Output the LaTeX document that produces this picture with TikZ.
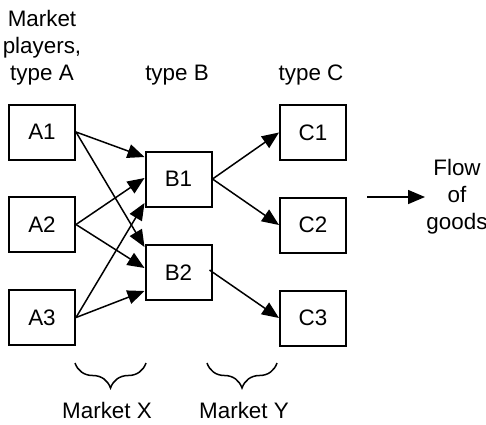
\documentclass[tikz,border=0pt]{standalone}
\usepackage{fontspec}
\setmainfont{Liberation Sans}
\usetikzlibrary{arrows.meta,calc,decorations.pathreplacing}

\begin{document}
\begin{tikzpicture}[x=0.5pt,y=-0.5pt,
  font=\fontsize{11.2}{13.5}\selectfont,
  player/.style={draw, line width=1pt, minimum width=33pt, minimum height=27.5pt, inner sep=0pt},
  flow/.style={line width=0.75pt, -{Triangle[length=8.5pt,width=7pt]}},
  brc/.style={decorate, decoration={brace, mirror, amplitude=12.5pt}, line width=0.75pt}]
\useasboundingbox (0,0) rectangle (486,424);

% column heads
\node[align=center] (headA) at (42,48) {Market\\players,\\type A};
\node (headB) at (177,75) {type B};
\node (headC) at (311,75) {type C};

% players
\node[player] (A1) at (42,132) {A1};
\node[player] (A2) at (42,224.5) {A2};
\node[player] (A3) at (42,317.5) {A3};
\node[player] (B1) at (178.5,179) {B1};
\node[player] (B2) at (178.5,272.5) {B2};
\node[player] (C1) at (313,132.5) {C1};
\node[player] (C2) at (313,225) {C2};
\node[player] (C3) at (313,318) {C3};

% market X
\draw[flow] (A1.east) -- ($(B1.west)+(0,-22)$);
\draw[flow] (A1.east) -- ($(B2.west)+(0,-25.5)$);
\draw[flow] (A2.east) -- ($(B1.west)+(0,-1)$);
\draw[flow] (A2.east) -- ($(B2.west)+(0,-4.5)$);
\draw[flow] (A3.east) -- ($(B1.west)+(0,24)$);
\draw[flow] (A3.east) -- ($(B2.west)+(0,18.5)$);

% market Y
\draw[flow] (B1.east) -- (C1.west);
\draw[flow] (B1.east) -- (C2.west);
\draw[flow] ($(B2.east)+(-3,-2.5)$) -- (C3.west);

% flow of goods
\coordinate (f0) at (367,197);
\coordinate (f1) at (425,197);
\draw[flow] (f0) -- (f1);
\node[align=center] (goods) at (457,197) {Flow\\of\\goods};

% markets
\coordinate (xl) at (75,363);
\coordinate (xr) at (146,363);
\coordinate (yl) at (207,363);
\coordinate (yr) at (277,363);
\draw[brc] (xl) -- (xr);
\draw[brc] (yl) -- (yr);
\node (mX) at (107,410) {Market X};
\node (mY) at (244,410) {Market Y};
\end{tikzpicture}
\end{document}
